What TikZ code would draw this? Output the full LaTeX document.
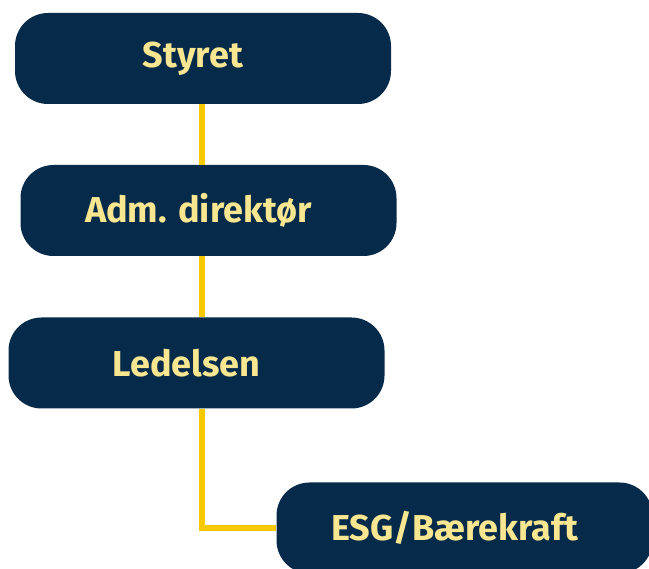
\documentclass[tikz,border=0pt]{standalone}
\usepackage{fontspec}
\setmainfont{Fira Sans}
\usetikzlibrary{positioning}

\definecolor{navy}{HTML}{062A4A}
\definecolor{gold}{HTML}{F7C900}
\definecolor{cream}{HTML}{F8E690}

\tikzset{
	orgbox/.style={fill=navy, rounded corners=33pt, minimum width=376pt, minimum height=91pt,
		text=cream, font=\fontsize{36}{40}\selectfont\bfseries, inner sep=0pt,
		execute at end node={\hspace*{20pt}}},
	link/.style={gold, line width=6pt}
}

\begin{document}
\begin{tikzpicture}[x=1pt, y=-1pt]
	
	\useasboundingbox (0,0) rectangle (649,569);
	
	\node [orgbox] (styret) at (203,58.5) {Styret};
	\node [orgbox] (adm) at (208.5,210.5) {Adm. direktør};
	\node [orgbox] (ledelsen) at (196.5,363) {Ledelsen};
	\node [orgbox] (esg) at (464.5,528) {ESG/Bærekraft};
	
	\coordinate (spine) at (202,0);
	
	\draw [link] (styret.south -| spine) -- (adm.north -| spine);
	\draw [link] (adm.south -| spine) -- (ledelsen.north -| spine);
	\draw [link] (ledelsen.south -| spine) |- (esg.west);
	
\end{tikzpicture}
\end{document}
